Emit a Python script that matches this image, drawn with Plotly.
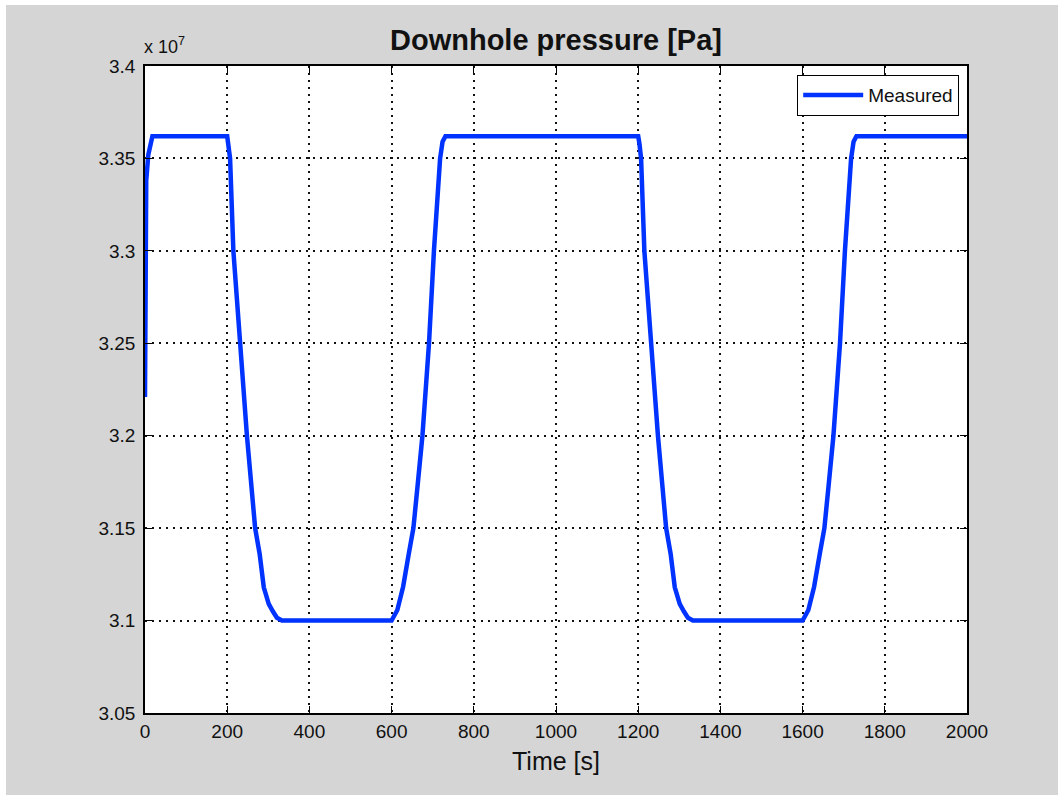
import plotly.graph_objects as go

# ---- data ----
time_s = [0, 3, 8, 13, 18,
          200, 203, 207, 215, 232, 248, 268, 279, 289, 301, 311, 321, 333,
          600, 614, 628, 642, 653, 663, 675, 691, 703, 718, 724, 731,
          1200, 1203, 1207, 1215, 1232, 1248, 1268, 1279, 1289, 1301, 1311, 1321, 1333,
          1600, 1614, 1628, 1642, 1653, 1663, 1675, 1691, 1703, 1718, 1724, 1731,
          2000]
pressure_pa = [3.221e7, 3.338e7, 3.352e7, 3.358e7, 3.362e7,
               3.362e7, 3.358e7, 3.350e7, 3.300e7, 3.250e7, 3.200e7, 3.150e7, 3.136e7, 3.118e7, 3.109e7, 3.105e7, 3.1015e7, 3.100e7,
               3.100e7, 3.1057e7, 3.1183e7, 3.1364e7, 3.150e7, 3.1724e7, 3.200e7, 3.250e7, 3.300e7, 3.350e7, 3.359e7, 3.362e7,
               3.362e7, 3.358e7, 3.350e7, 3.300e7, 3.250e7, 3.200e7, 3.150e7, 3.136e7, 3.118e7, 3.109e7, 3.105e7, 3.1015e7, 3.100e7,
               3.100e7, 3.1057e7, 3.1183e7, 3.1364e7, 3.150e7, 3.1724e7, 3.200e7, 3.250e7, 3.300e7, 3.350e7, 3.359e7, 3.362e7,
               3.362e7]

x_ticks = [0, 200, 400, 600, 800, 1000, 1200, 1400, 1600, 1800, 2000]
y_ticks = [3.05e7, 3.1e7, 3.15e7, 3.2e7, 3.25e7, 3.3e7, 3.35e7, 3.4e7]
y_tick_text = ["3.05", "3.1", "3.15", "3.2", "3.25", "3.3", "3.35", "3.4"]

FONT = "Liberation Sans, Arial, Helvetica, sans-serif"

fig = go.Figure()
fig.add_trace(go.Scatter(
    x=time_s, y=pressure_pa, mode="lines", name="Measured",
    line=dict(color="#0033ff", width=4.5),
))

L, R, T, B = 145, 967, 66, 713
W, H = 1058, 796
pw, ph = R - L, B - T

def px(xp):
    return (xp - L) / pw

def py(yp):
    return (B - yp) / ph

axis_common = dict(
    showline=True, linecolor="black", linewidth=1.5, mirror="ticks",
    ticks="inside", ticklen=7, tickwidth=1.2, tickcolor="black",
    showgrid=True, gridcolor="#111111", gridwidth=1.5, griddash="1.5px,5.5px",
    zeroline=False,
    tickfont=dict(family=FONT, size=19, color="#111111"),
)

fig.update_layout(
    width=W, height=H,
    margin=dict(l=L, r=W - R, t=T, b=H - B, pad=0),
    paper_bgcolor="white", plot_bgcolor="white",
    font=dict(family=FONT, color="#111111"),
    title=dict(text="<b>Downhole pressure [Pa]</b>", x=0.5, xref="paper",
               y=1 - 40 / H, yref="container", yanchor="middle",
               font=dict(family=FONT, size=29, color="#111111")),
    xaxis=dict(range=[0, 2000], tickvals=x_ticks,
               title=dict(text="Time [s]", standoff=12,
                          font=dict(family=FONT, size=25, color="#111111")),
               **axis_common),
    yaxis=dict(range=[3.05e7, 3.4e7], tickvals=y_ticks, ticktext=y_tick_text,
               ticklabelstandoff=4, **axis_common),
    showlegend=True,
    legend=dict(x=px(959), xanchor="right", y=py(75), yanchor="top",
                bgcolor="white", bordercolor="black", borderwidth=1.2,
                font=dict(family=FONT, size=19, color="#111111"),
                itemwidth=60, tracegroupgap=0),
    shapes=[
        dict(type="rect", xref="paper", yref="paper", layer="below",
             x0=px(6), x1=px(1058), y0=py(795), y1=py(5),
             fillcolor="#d5d5d5", line=dict(width=0)),
        dict(type="rect", xref="paper", yref="paper", layer="below",
             x0=0, x1=1, y0=0, y1=1,
             fillcolor="white", line=dict(width=0)),
    ],
    annotations=[
        dict(text="x 10<sup>7</sup>", xref="paper", yref="paper",
             x=px(142), y=py(59), xanchor="left", yanchor="bottom",
             showarrow=False, font=dict(family=FONT, size=18, color="#111111")),
    ],
)

fig.write_html("out.html")
